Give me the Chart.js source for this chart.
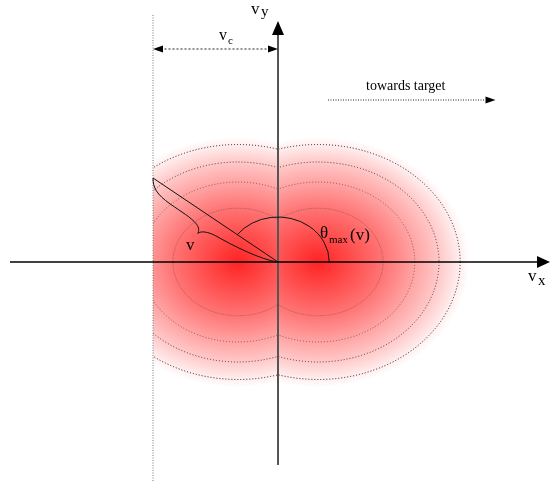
<!DOCTYPE html>
<html>
<head>
<meta charset="utf-8">
<script src="https://cdn.jsdelivr.net/npm/chart.js@4.4.0/dist/chart.umd.min.js"></script>
<style>
  html, body { margin: 0; padding: 0; background: #fff; }
  canvas { display: block; }
</style>
</head>
<body>
<canvas id="chart" width="550" height="484"></canvas>
<script>
// everything is in units of v_c
const vc = 1;
const blobCenters = [-0.32, 0.32];            // centres of the two lobes on the v_x axis
const contourLevels = [0.43, 0.64, 0.80, 0.94]; // half height of each level curve
const ellipseStretch = 1.21;                   // width / height of every level curve
const glowReach = 1.0;                         // where the red fades to white
const velocity = [-1, 0.672];
const thetaArc = [0.41, 0.36];

const xAxisEnds = [-2.144, 2.08];
const yAxisEnds = [-1.624, 1.816];
const vcLineEnds = [-1.752, 1.976];
const vcArrowY = 1.704;
const targetArrow = [0.4, 1.66, 1.296];

const serif = '"Liberation Serif", "DejaVu Serif", serif';

function seg(x1, y1, x2, y2) {
  return [{ x: x1, y: y1 }, { x: x2, y: y2 }];
}

function lineSet(data, color, width, dash) {
  return {
    data: data,
    showLine: true,
    borderColor: color,
    borderWidth: width,
    borderDash: dash || [],
    pointRadius: 0,
    tension: 0,
    fill: false
  };
}

function arrowHead(ctx, tx, ty, dx, dy, len, half) {
  const l = Math.hypot(dx, dy);
  const ux = dx / l, uy = dy / l;
  ctx.beginPath();
  ctx.moveTo(tx, ty);
  ctx.lineTo(tx - ux * len - uy * half, ty - uy * len + ux * half);
  ctx.lineTo(tx - ux * len + uy * half, ty - uy * len - ux * half);
  ctx.closePath();
  ctx.fill();
}

// hand drawn curly brace from p1 to p2; s runs along the segment (0..1), n is the offset in px
function brace(ctx, x1, y1, x2, y2) {
  const L = Math.hypot(x2 - x1, y2 - y1);
  const ux = (x2 - x1) / L, uy = (y2 - y1) / L;
  const nx = -uy, ny = ux;
  const P = (s, n) => [x1 + ux * s * L + nx * n, y1 + uy * s * L + ny * n];
  const curve = (a, b, c) => {
    const p = P(...a), q = P(...b), r = P(...c);
    ctx.bezierCurveTo(p[0], p[1], q[0], q[1], r[0], r[1]);
  };
  ctx.beginPath();
  ctx.moveTo(...P(0, 0));
  curve([0.035, 8], [0.08, 11.5], [0.19, 12]);
  curve([0.28, 12.2], [0.36, 11.5], [0.41, 14]);
  curve([0.44, 15.5], [0.45, 18.5], [0.452, 21]);
  curve([0.46, 17], [0.5, 14], [0.56, 13]);
  curve([0.7, 11.5], [0.9, 7.5], [1, 0]);
  ctx.stroke();
}

const diagram = {
  id: 'diagram',
  beforeDraw(chart) {
    const ctx = chart.ctx;
    ctx.save();
    ctx.fillStyle = '#fff';
    ctx.fillRect(0, 0, chart.width, chart.height);
    ctx.restore();
  },
  beforeDatasetsDraw(chart) {
    const { ctx, scales: { x, y } } = chart;
    const ppy = y.getPixelForValue(0) - y.getPixelForValue(1);
    const x0 = x.getPixelForValue(0), y0 = y.getPixelForValue(0);
    const xc = x.getPixelForValue(-vc);

    // red glow, cut off at -v_c
    ctx.save();
    ctx.beginPath();
    ctx.rect(xc, 0, chart.width, chart.height);
    ctx.clip();
    blobCenters.forEach((c, i) => {
      const r = glowReach * ppy;
      ctx.save();
      ctx.globalCompositeOperation = i === 0 ? 'source-over' : 'darken';
      ctx.translate(x.getPixelForValue(c), y0);
      ctx.scale(ellipseStretch, 1);
      const g = ctx.createRadialGradient(0, 0, 0, 0, 0, r);
      g.addColorStop(0, 'rgb(255,35,35)');
      g.addColorStop(0.45, 'rgb(255,120,120)');
      g.addColorStop(0.8, 'rgb(255,200,200)');
      g.addColorStop(1, 'rgb(255,255,255)');
      ctx.fillStyle = g;
      ctx.fillRect(-2 * r, -2 * r, 4 * r, 4 * r);
      ctx.restore();
    });
    ctx.restore();

    // level curves: left lobe for v_x < 0, right lobe for v_x > 0
    const colors = ['rgba(130,80,80,0.55)', 'rgba(90,60,60,0.7)', 'rgba(40,30,30,0.8)', 'rgba(0,0,0,0.85)'];
    contourLevels.forEach((h, i) => {
      const ry = h * ppy, rx = ry * ellipseStretch;
      ctx.save();
      ctx.strokeStyle = colors[i];
      ctx.lineWidth = 1;
      ctx.setLineDash(i === 0 ? [1.5, 1] : [1, 2]);
      [[x0, chart.width - x0, blobCenters[1]], [xc, x0 - xc, blobCenters[0]]].forEach(([left, wdt, c]) => {
        ctx.save();
        ctx.beginPath();
        ctx.rect(left, 0, wdt, chart.height);
        ctx.clip();
        ctx.beginPath();
        ctx.ellipse(x.getPixelForValue(c), y0, rx, ry, 0, 0, 2 * Math.PI);
        ctx.stroke();
        ctx.restore();
      });
      ctx.restore();
    });
  },
  afterDatasetsDraw(chart) {
    const { ctx, scales: { x, y } } = chart;
    const ppy = y.getPixelForValue(0) - y.getPixelForValue(1);
    const ppx = x.getPixelForValue(1) - x.getPixelForValue(0);
    const x0 = x.getPixelForValue(0), y0 = y.getPixelForValue(0);
    const vx = x.getPixelForValue(velocity[0]), vy = y.getPixelForValue(velocity[1]);

    ctx.save();
    // axis arrow heads
    ctx.fillStyle = '#000';
    arrowHead(ctx, chart.width, y0, 1, 0, 13, 6);
    arrowHead(ctx, x0, y.getPixelForValue(yAxisEnds[1]) - 14, 0, -1, 14, 6);

    // v_c double arrow
    const ya = y.getPixelForValue(vcArrowY);
    arrowHead(ctx, x.getPixelForValue(-vc), ya, -1, 0, 10, 3.5);
    arrowHead(ctx, x0, ya, 1, 0, 10, 3.5);

    // towards target arrow
    arrowHead(ctx, x.getPixelForValue(targetArrow[1]) + 10, y.getPixelForValue(targetArrow[2]), 1, 0, 10, 3.5);

    // brace along the velocity vector
    ctx.strokeStyle = '#111';
    ctx.lineWidth = 1;
    brace(ctx, vx, vy, x0, y0);

    // theta_max arc
    const rx = thetaArc[0] * ppx, ry = thetaArc[1] * ppy;
    const t0 = Math.atan2((vy - y0) / ry, (vx - x0) / rx);
    ctx.beginPath();
    ctx.ellipse(x0, y0, rx, ry, 0, t0, 0, false);
    ctx.stroke();

    // labels
    ctx.fillStyle = '#000';
    ctx.textBaseline = 'alphabetic';
    ctx.textAlign = 'left';
    ctx.font = '17px ' + serif;
    ctx.fillText('v', 251, 14);
    ctx.font = '15px ' + serif;
    ctx.fillText('y', 261, 16);

    ctx.font = '17px ' + serif;
    ctx.fillText('v', 528, 281);
    ctx.font = '15px ' + serif;
    ctx.fillText('x', 538, 285);

    ctx.font = '16px ' + serif;
    ctx.fillText('v', 219, 40);
    ctx.font = '11px ' + serif;
    ctx.fillText('c', 228, 44);

    ctx.font = '17px ' + serif;
    ctx.fillText('v', 186, 250);

    ctx.font = '17px ' + serif;
    ctx.fillText('\u03b8', 320, 238);
    ctx.font = '11px ' + serif;
    ctx.fillText('max', 329, 243);
    ctx.font = '17px ' + serif;
    ctx.fillText('(v)', 350, 240);

    ctx.font = '14px ' + serif;
    ctx.fillText('towards target', 366, 90);
    ctx.restore();
  }
};

new Chart(document.getElementById('chart'), {
  type: 'scatter',
  data: {
    datasets: [
      lineSet(seg(0, 0, velocity[0], velocity[1]), '#111', 1),
      lineSet(seg(xAxisEnds[0], 0, xAxisEnds[1], 0), '#000', 1.6),
      lineSet(seg(0, yAxisEnds[0], 0, yAxisEnds[1]), '#555', 2),
      lineSet(seg(-vc, vcLineEnds[0], -vc, vcLineEnds[1]), '#777', 1, [1, 1.5]),
      lineSet(seg(-vc + 0.06, vcArrowY, -0.06, vcArrowY), '#222', 1, [2, 2]),
      lineSet(seg(targetArrow[0], targetArrow[2], targetArrow[1], targetArrow[2]), '#222', 1, [1, 1.5])
    ]
  },
  options: {
    responsive: false,
    animation: false,
    devicePixelRatio: 1,
    layout: { padding: 0 },
    plugins: { legend: { display: false }, tooltip: { enabled: false } },
    scales: {
      x: { type: 'linear', display: false, min: -2.224, max: 2.176 },
      y: { type: 'linear', display: false, min: -1.776, max: 2.096 }
    }
  },
  plugins: [diagram]
});
</script>
</body>
</html>
